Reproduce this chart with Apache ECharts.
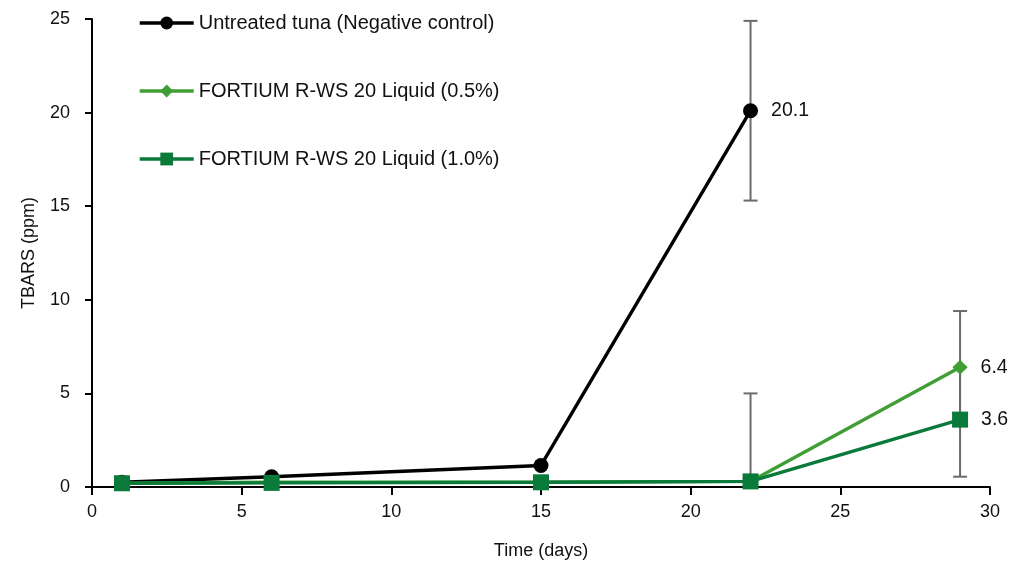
<!DOCTYPE html>
<html><head><meta charset="utf-8">
<script src="https://cdn.jsdelivr.net/npm/echarts@6/dist/echarts.min.js"></script>
<style>html,body{margin:0;padding:0;background:#fff}#c{width:1014px;height:565px}</style>
</head><body><div id="c"></div>
<script>
const days = [1, 6, 15, 22, 29];
const untreated = [0.25, 0.55, 1.15, 20.1, null];
const fort05 = [0.2, 0.25, 0.25, 0.3, 6.4];
const fort10 = [0.2, 0.22, 0.25, 0.3, 3.6];
// error bars: [day, low, high]
const errUntreated = [[22, 15.3, 24.9]];
const errFort05 = [[22, -4.4, 5.0], [29, 3.6, 9.4]];
const errFort10 = [[29, 0.55, 6.4]];
const endLabels = {untreated: 3, fort05: 4, fort10: 4};

const FONT = '"Liberation Sans",Arial,sans-serif';
const BLACK = '#000000', LG = '#3f9f35', DG = '#0a7a3a';

function pts(vals){ return days.map((d,i)=> vals[i]==null ? null : [d, vals[i]]).filter(Boolean); }

function lineSeries(name, vals, color, symbol, size, labelIdx, z){
  const data = pts(vals).map((p,i)=> i===labelIdx ? {value:p, label:{show:true}} : p);
  return {
    name, type:'line', data, color, symbol, symbolSize:size, z,
    lineStyle:{width:3.4,color}, itemStyle:{color},
    label:{show:false, position:'right', distance:13, color:'#111', fontSize:19.5, fontFamily:FONT,
      formatter:(p)=>p.value[1].toFixed(1)},
    emphasis:{disabled:true}
  };
}
function errSeries(data){
  return {
    type:'custom', z:1, clip:true, silent:true,
    data: data,
    encode:{x:0, y:[1,2]},
    renderItem:(params, api)=>{
      const x = api.value(0);
      const low = api.value(1);
      const lo = api.coord([x, Math.max(low,0)]);
      const hi = api.coord([x, api.value(2)]);
      const w = 7;
      const st = {stroke:'#6b6b6b', lineWidth:2};
      const ch = [
        {type:'line', shape:{x1:lo[0],y1:lo[1],x2:hi[0],y2:hi[1]}, style:st},
        {type:'line', shape:{x1:hi[0]-w,y1:hi[1],x2:hi[0]+w,y2:hi[1]}, style:st}
      ];
      if (low >= 0) ch.push({type:'line', shape:{x1:lo[0]-w,y1:lo[1],x2:lo[0]+w,y2:lo[1]}, style:st});
      return {type:'group', children:ch};
    }
  };
}

const chart = echarts.init(document.getElementById('c'), null, {renderer:'canvas'});
chart.setOption({
  animation:false,
  textStyle:{fontFamily:FONT},
  grid:{left:92, right:24, top:19, bottom:78, containLabel:false},
  legend:{
    orient:'vertical', left:133, top:8, itemGap:48, itemWidth:54, itemHeight:16,
    lineStyle:{width:3.4},
    textStyle:{fontSize:20, color:'#111', fontFamily:FONT},
    data:['Untreated tuna (Negative control)','FORTIUM R-WS 20 Liquid (0.5%)','FORTIUM R-WS 20 Liquid (1.0%)']
  },
  xAxis:{
    type:'value', min:0, max:30, interval:5,
    name:'Time (days)', nameLocation:'middle', nameGap:55,
    nameTextStyle:{fontSize:18, color:'#111', fontFamily:FONT},
    axisLine:{onZero:false, lineStyle:{color:'#000', width:2}},
    axisTick:{show:true, length:8, lineStyle:{color:'#000', width:2}},
    axisLabel:{fontSize:18, color:'#111', margin:16, fontFamily:FONT},
    splitLine:{show:false}
  },
  yAxis:{
    type:'value', min:0, max:25, interval:5,
    name:'TBARS (ppm)', nameLocation:'middle', nameGap:54,
    nameTextStyle:{fontSize:18, color:'#111', fontFamily:FONT},
    axisLine:{show:true, lineStyle:{color:'#000', width:2}},
    axisTick:{show:true, length:7, lineStyle:{color:'#000', width:2}},
    axisLabel:{fontSize:18, color:'#111', margin:22, fontFamily:FONT},
    splitLine:{show:false}
  },
  series:[
    errSeries(errUntreated),
    errSeries(errFort05),
    errSeries(errFort10),
    lineSeries('Untreated tuna (Negative control)', untreated, BLACK, 'circle', 15, endLabels.untreated, 3),
    lineSeries('FORTIUM R-WS 20 Liquid (0.5%)', fort05, LG, 'diamond', 15, endLabels.fort05, 4),
    lineSeries('FORTIUM R-WS 20 Liquid (1.0%)', fort10, DG, 'rect', 16, endLabels.fort10, 5)
  ]
});
</script></body></html>
